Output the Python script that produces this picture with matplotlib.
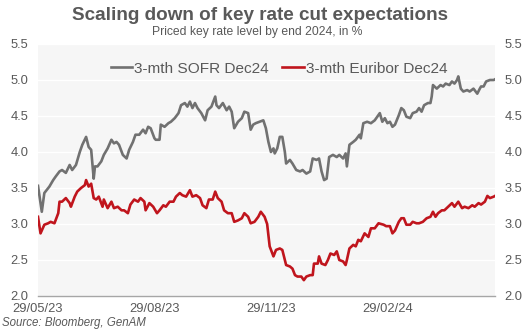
import matplotlib
matplotlib.use("Agg")
import matplotlib.pyplot as plt
import matplotlib.dates as mdates
import pandas as pd

plt.rcParams['font.family'] = ['Liberation Sans', 'DejaVu Sans']

title = "Scaling down of key rate cut expectations"
subtitle = "Priced key rate level by end 2024, in %"
source = "Source: Bloomberg, GenAM"
sofr_label = "3-mth SOFR Dec24"
euribor_label = "3-mth Euribor Dec24"

sofr_dates = [
    "2023-05-29", "2023-06-01", "2023-06-03", "2023-06-07", "2023-06-10", "2023-06-12", "2023-06-15",
    "2023-06-17", "2023-06-20", "2023-06-23", "2023-06-25", "2023-06-28", "2023-07-01", "2023-07-03",
    "2023-07-06", "2023-07-08", "2023-07-10", "2023-07-12", "2023-07-13", "2023-07-15", "2023-07-18",
    "2023-07-20", "2023-07-23", "2023-07-26", "2023-07-28", "2023-07-30", "2023-08-01", "2023-08-04",
    "2023-08-07", "2023-08-09", "2023-08-12", "2023-08-14", "2023-08-17", "2023-08-20", "2023-08-22",
    "2023-08-24", "2023-08-26", "2023-08-29", "2023-08-30", "2023-09-02", "2023-09-03", "2023-09-06",
    "2023-09-09", "2023-09-11", "2023-09-14", "2023-09-17", "2023-09-19", "2023-09-22", "2023-09-24",
    "2023-09-26", "2023-09-28", "2023-09-30", "2023-10-02", "2023-10-05", "2023-10-08", "2023-10-10",
    "2023-10-13", "2023-10-16", "2023-10-17", "2023-10-19", "2023-10-22", "2023-10-25", "2023-10-27",
    "2023-10-29", "2023-10-31", "2023-11-03", "2023-11-06", "2023-11-08", "2023-11-11", "2023-11-13",
    "2023-11-15", "2023-11-17", "2023-11-20", "2023-11-23", "2023-11-25", "2023-11-27", "2023-11-29",
    "2023-12-01", "2023-12-02", "2023-12-04", "2023-12-06", "2023-12-08", "2023-12-10", "2023-12-11",
    "2023-12-14", "2023-12-16", "2023-12-19", "2023-12-22", "2023-12-24", "2023-12-27", "2023-12-30",
    "2024-01-01", "2024-01-04", "2024-01-06", "2024-01-08", "2024-01-10", "2024-01-12", "2024-01-14",
    "2024-01-17", "2024-01-20", "2024-01-22", "2024-01-25", "2024-01-27", "2024-01-28", "2024-01-30",
    "2024-02-02", "2024-02-04", "2024-02-07", "2024-02-08", "2024-02-10", "2024-02-13", "2024-02-16",
    "2024-02-19", "2024-02-23", "2024-02-25", "2024-02-27", "2024-02-29", "2024-03-02", "2024-03-04",
    "2024-03-06", "2024-03-09", "2024-03-11", "2024-03-13", "2024-03-15", "2024-03-18", "2024-03-20",
    "2024-03-23", "2024-03-25", "2024-03-27", "2024-03-29", "2024-04-01", "2024-04-03", "2024-04-04",
    "2024-04-05", "2024-04-08", "2024-04-11", "2024-04-13", "2024-04-15", "2024-04-18", "2024-04-20",
    "2024-04-22", "2024-04-24", "2024-04-25", "2024-04-27", "2024-04-29", "2024-05-02", "2024-05-04",
    "2024-05-07", "2024-05-10", "2024-05-12", "2024-05-13", "2024-05-15", "2024-05-17", "2024-05-20",
    "2024-05-23", "2024-05-24",
]
sofr_values = [
    3.53, 3.17, 3.43, 3.52, 3.61, 3.66, 3.73,
    3.75, 3.71, 3.82, 3.75, 3.82, 4.00, 4.10,
    4.21, 4.07, 4.03, 3.63, 3.80, 3.80, 3.87,
    3.96, 4.05, 4.17, 4.12, 4.14, 4.10, 3.96,
    3.91, 4.03, 4.14, 4.24, 4.24, 4.31, 4.26,
    4.35, 4.33, 4.19, 4.17, 4.17, 4.38, 4.35,
    4.40, 4.42, 4.47, 4.54, 4.65, 4.68, 4.63,
    4.70, 4.61, 4.68, 4.61, 4.54, 4.44, 4.58,
    4.63, 4.77, 4.65, 4.61, 4.68, 4.58, 4.63,
    4.56, 4.33, 4.42, 4.47, 4.56, 4.54, 4.31,
    4.38, 4.40, 4.42, 4.44, 4.33, 4.14, 4.00,
    4.05, 3.98, 4.05, 4.21, 4.21, 4.00, 3.84,
    3.89, 3.84, 3.75, 3.73, 3.75, 3.70, 3.73,
    3.91, 3.89, 3.91, 3.73, 3.61, 3.63, 3.93,
    3.96, 3.93, 3.96, 3.91, 3.98, 3.80, 4.10,
    4.14, 4.17, 4.24, 4.19, 4.40, 4.42, 4.40,
    4.44, 4.54, 4.42, 4.47, 4.40, 4.42, 4.35,
    4.38, 4.51, 4.61, 4.58, 4.49, 4.47, 4.54,
    4.56, 4.61, 4.56, 4.65, 4.68, 4.68, 4.77,
    4.93, 4.88, 4.93, 4.91, 4.95, 4.93, 4.98,
    4.95, 5.00, 5.05, 4.88, 4.84, 4.86, 4.84,
    4.88, 4.81, 4.88, 4.91, 4.91, 4.98, 5.00,
    5.00, 5.01,
]

euribor_dates = [
    "2023-05-29", "2023-05-31", "2023-06-03", "2023-06-06", "2023-06-08", "2023-06-11", "2023-06-14",
    "2023-06-15", "2023-06-17", "2023-06-20", "2023-06-23", "2023-06-24", "2023-06-27", "2023-06-29",
    "2023-07-02", "2023-07-05", "2023-07-06", "2023-07-08", "2023-07-10", "2023-07-12", "2023-07-14",
    "2023-07-16", "2023-07-19", "2023-07-20", "2023-07-23", "2023-07-26", "2023-07-28", "2023-07-31",
    "2023-08-03", "2023-08-05", "2023-08-08", "2023-08-10", "2023-08-13", "2023-08-16", "2023-08-18",
    "2023-08-21", "2023-08-22", "2023-08-25", "2023-08-28", "2023-08-31", "2023-09-02", "2023-09-05",
    "2023-09-07", "2023-09-10", "2023-09-13", "2023-09-15", "2023-09-18", "2023-09-20", "2023-09-23",
    "2023-09-26", "2023-09-28", "2023-10-01", "2023-10-04", "2023-10-06", "2023-10-09", "2023-10-11",
    "2023-10-14", "2023-10-16", "2023-10-18", "2023-10-21", "2023-10-23", "2023-10-26", "2023-10-29",
    "2023-10-31", "2023-11-03", "2023-11-06", "2023-11-08", "2023-11-11", "2023-11-13", "2023-11-16",
    "2023-11-19", "2023-11-21", "2023-11-24", "2023-11-26", "2023-11-28", "2023-12-01", "2023-12-03",
    "2023-12-06", "2023-12-08", "2023-12-11", "2023-12-14", "2023-12-16", "2023-12-18", "2023-12-20",
    "2023-12-23", "2023-12-25", "2023-12-27", "2023-12-30", "2024-01-01", "2024-01-02", "2024-01-05",
    "2024-01-06", "2024-01-08", "2024-01-11", "2024-01-13", "2024-01-15", "2024-01-18", "2024-01-20",
    "2024-01-22", "2024-01-25", "2024-01-27", "2024-01-28", "2024-01-30", "2024-02-02", "2024-02-04",
    "2024-02-06", "2024-02-08", "2024-02-11", "2024-02-14", "2024-02-16", "2024-02-19", "2024-02-22",
    "2024-02-26", "2024-02-28", "2024-03-02", "2024-03-04", "2024-03-06", "2024-03-09", "2024-03-11",
    "2024-03-13", "2024-03-15", "2024-03-18", "2024-03-20", "2024-03-23", "2024-03-25", "2024-03-28",
    "2024-03-31", "2024-04-03", "2024-04-05", "2024-04-07", "2024-04-09", "2024-04-12", "2024-04-14",
    "2024-04-17", "2024-04-20", "2024-04-22", "2024-04-25", "2024-04-28", "2024-04-30", "2024-05-03",
    "2024-05-06", "2024-05-08", "2024-05-11", "2024-05-13", "2024-05-16", "2024-05-18", "2024-05-20",
    "2024-05-23", "2024-05-24",
]
euribor_values = [
    3.10, 2.87, 2.99, 3.01, 3.03, 3.01, 3.15,
    3.31, 3.31, 3.36, 3.29, 3.24, 3.38, 3.45,
    3.50, 3.54, 3.61, 3.52, 3.56, 3.36, 3.34,
    3.38, 3.24, 3.34, 3.22, 3.31, 3.22, 3.24,
    3.19, 3.19, 3.15, 3.27, 3.34, 3.31, 3.36,
    3.31, 3.19, 3.29, 3.24, 3.15, 3.19, 3.26,
    3.24, 3.31, 3.31, 3.38, 3.43, 3.40, 3.38,
    3.47, 3.38, 3.40, 3.36, 3.26, 3.22, 3.34,
    3.34, 3.45, 3.36, 3.31, 3.19, 3.15, 3.15,
    3.03, 3.05, 3.08, 3.15, 3.10, 3.01, 3.03,
    3.10, 3.17, 3.10, 3.00, 2.69, 2.55, 2.64,
    2.66, 2.64, 2.43, 2.41, 2.38, 2.29, 2.27,
    2.27, 2.22, 2.27, 2.29, 2.29, 2.45, 2.45,
    2.55, 2.45, 2.43, 2.50, 2.59, 2.57, 2.62,
    2.50, 2.48, 2.43, 2.50, 2.66, 2.71, 2.69,
    2.78, 2.76, 2.87, 2.82, 2.94, 2.94, 3.01,
    2.99, 2.97, 2.97, 2.87, 2.91, 3.03, 3.08,
    3.08, 2.99, 2.99, 3.03, 3.01, 3.01, 3.03,
    3.08, 3.10, 3.17, 3.10, 3.15, 3.19, 3.19,
    3.24, 3.29, 3.24, 3.31, 3.22, 3.24, 3.22,
    3.26, 3.24, 3.29, 3.27, 3.31, 3.39, 3.36,
    3.38, 3.39,
]

x_ticks = ["2023-05-29", "2023-08-29", "2023-11-29", "2024-02-29"]
x_tick_labels = ["29/05/23", "29/08/23", "29/11/23", "29/02/24"]
y_ticks = [2.0, 2.5, 3.0, 3.5, 4.0, 4.5, 5.0, 5.5]
x_range = ["2023-05-29", "2024-05-24"]

TXT = "#595959"
GREY = "#717171"
RED = "#c0151d"

fig = plt.figure(figsize=(5.31, 3.34), dpi=100)
ax = fig.add_axes([38 / 531, 1 - 296 / 334, (495 - 38) / 531, (296 - 44) / 334])
ax.set_facecolor("#f6f6f6")

ax.plot(pd.to_datetime(sofr_dates), sofr_values, color=GREY, lw=1.9, label=sofr_label,
        solid_joinstyle="round")
ax.plot(pd.to_datetime(euribor_dates), euribor_values, color=RED, lw=1.9, label=euribor_label,
        solid_joinstyle="round")

ax.set_xlim(pd.to_datetime(x_range[0]), pd.to_datetime(x_range[1]))
ax.set_ylim(y_ticks[0], y_ticks[-1])
ax.set_yticks(y_ticks)
ax.set_yticklabels([f"{v:.1f}" for v in y_ticks])
ax.set_xticks(pd.to_datetime(x_ticks))
ax.set_xticklabels(x_tick_labels)

ax.grid(axis="y", color="white", lw=1.0)
ax.set_axisbelow(True)
for s in ["top", "left", "right"]:
    ax.spines[s].set_visible(False)
ax.spines["bottom"].set_color("#a6a6a6")
ax.spines["bottom"].set_linewidth(1.0)

ax.tick_params(axis="y", length=0, labelsize=9.3, labelcolor=TXT, labelright=True, pad=7)
ax.tick_params(axis="x", length=0, labelsize=9.3, labelcolor=TXT, pad=5)

leg = ax.legend(loc="upper center", bbox_to_anchor=(0.527, 0.985), ncol=2, frameon=False,
                fontsize=11.1, handlelength=1.42, handletextpad=0.12, columnspacing=0.83,
                labelcolor=TXT)

fig.text(260 / 531, 1 - 15 / 334, title, ha="center", va="center", fontsize=13.6,
         fontweight="bold", color=TXT)
fig.text(257 / 531, 1 - 32 / 334, subtitle, ha="center", va="center", fontsize=8.7, color=TXT)
fig.text(2 / 531, 1 - 323 / 334, source, ha="left", va="center", fontsize=8.3, style="italic",
         color=TXT)

fig.savefig("out.png", dpi=100)
